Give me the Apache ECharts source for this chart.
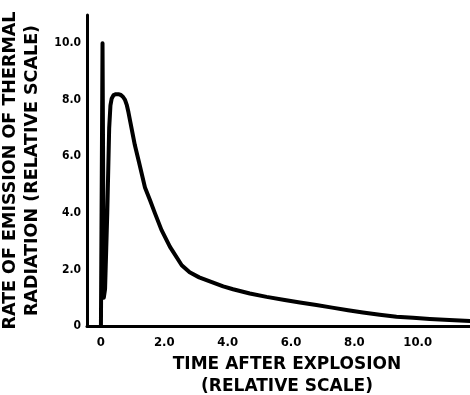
<!DOCTYPE html>
<html><head><meta charset="utf-8">
<script src="https://cdn.jsdelivr.net/npm/echarts@6/dist/echarts.min.js"></script>
<style>html,body{margin:0;padding:0;background:#fff}#c{width:470px;height:395px}</style>
</head><body><div id="c"></div>
<script>
const timeValues = [0.0, 0.05, 0.09, 0.13, 0.2, 0.26, 0.3, 0.34, 0.4, 0.47, 0.55, 0.63, 0.7, 0.76, 0.82, 0.87, 0.93, 1.0, 1.07, 1.2, 1.39, 1.55, 1.7, 1.91, 2.18, 2.55, 2.8, 3.1, 3.5, 3.86, 4.17, 4.7, 5.23, 5.8, 6.28, 6.8, 7.3, 7.8, 8.27, 8.8, 9.33, 9.85, 10.38, 11.0, 11.65];
const emissionValues = [0.0, 10.0, 1.0, 1.3, 4.0, 7.0, 7.8, 8.05, 8.17, 8.2, 8.2, 8.17, 8.1, 8.0, 7.8, 7.55, 7.2, 6.8, 6.4, 5.8, 4.9, 4.45, 4.0, 3.4, 2.8, 2.15, 1.9, 1.72, 1.55, 1.40, 1.30, 1.15, 1.03, 0.92, 0.83, 0.74, 0.65, 0.56, 0.48, 0.40, 0.33, 0.29, 0.25, 0.21, 0.18];
const xTickValues = [0, 2, 4, 6, 8, 10];
const xTickLabels = ['0', '2.0', '4.0', '6.0', '8.0', '10.0'];
const yTickValues = [0, 2, 4, 6, 8, 10];
const yTickLabels = ['0', '2.0', '4.0', '6.0', '8.0', '10.0'];
const xTitle = 'TIME AFTER EXPLOSION\n(RELATIVE SCALE)';
const yTitle = 'RATE OF EMISSION OF THERMAL\nRADIATION (RELATIVE SCALE)';

const chart = echarts.init(document.getElementById('c'), null, {renderer: 'canvas'});
const font = '"DejaVu Sans", "Liberation Sans", sans-serif';
const condFont = '"DejaVu Sans Condensed", "DejaVu Sans", sans-serif';
chart.setOption({
  animation: false,
  backgroundColor: '#fff',
  grid: {left: 87, right: 0, top: 15, bottom: 69, containLabel: false, outerBoundsMode: 'none'},
  xAxis: {
    type: 'value', min: -0.44, max: 11.65,
    name: xTitle, nameLocation: 'middle', nameGap: 28,
    nameTextStyle: {fontFamily: font, fontWeight: 'bold', fontSize: 17, color: '#000', lineHeight: 22, padding: [0, 0, 0, 17]},
    axisLine: {onZero: false, lineStyle: {color: '#000', width: 3}},
    axisTick: {show: false},
    splitLine: {show: false},
    axisLabel: {
      customValues: xTickValues,
      formatter: v => xTickLabels[xTickValues.indexOf(Math.round(v))],
      fontFamily: condFont, fontWeight: 'bold', fontSize: 13, color: '#000', margin: 10
    }
  },
  yAxis: {
    type: 'value', min: 0, max: 11,
    name: yTitle, nameLocation: 'middle', nameGap: 36, nameRotate: 90,
    nameTextStyle: {fontFamily: font, fontWeight: 'bold', fontSize: 17.5, color: '#000', lineHeight: 22},
    axisLine: {show: true, onZero: false, lineStyle: {color: '#000', width: 3}},
    axisTick: {show: false},
    splitLine: {show: false},
    axisLabel: {
      customValues: yTickValues,
      formatter: v => yTickLabels[yTickValues.indexOf(Math.round(v))],
      fontFamily: condFont, fontWeight: 'bold', fontSize: 12, color: '#000', margin: 6
    }
  },
  series: [{
    type: 'line',
    data: timeValues.map((t, i) => [t, emissionValues[i]]),
    showSymbol: false,
    smooth: false,
    lineStyle: {color: '#000', width: 4, join: 'round', cap: 'round'}
  }]
});
</script>
</body></html>
